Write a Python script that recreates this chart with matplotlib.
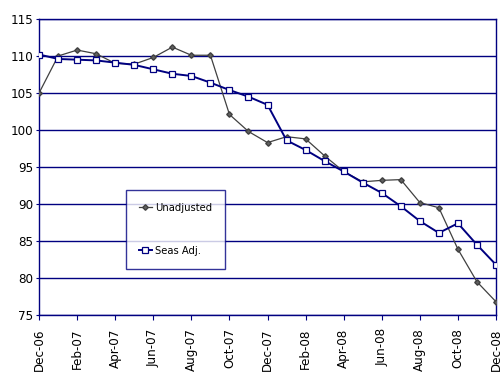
import matplotlib
matplotlib.use('Agg')
import matplotlib.pyplot as plt

# monthly index, Dec-06 .. Dec-08
months = ['Dec-06', 'Jan-07', 'Feb-07', 'Mar-07', 'Apr-07', 'May-07', 'Jun-07',
          'Jul-07', 'Aug-07', 'Sep-07', 'Oct-07', 'Nov-07', 'Dec-07', 'Jan-08',
          'Feb-08', 'Mar-08', 'Apr-08', 'May-08', 'Jun-08', 'Jul-08', 'Aug-08',
          'Sep-08', 'Oct-08', 'Nov-08', 'Dec-08']
unadjusted = [105.0, 110.0, 110.8, 110.3, 109.0, 108.9, 109.8, 111.2, 110.1, 110.1,
              102.1, 99.8, 98.3, 99.1, 98.8, 96.5, 94.4, 93.0, 93.2, 93.3,
              90.2, 89.5, 83.9, 79.5, 76.8]
seas_adj = [110.2, 109.6, 109.5, 109.4, 109.1, 108.8, 108.2, 107.6, 107.3, 106.4,
            105.4, 104.5, 103.4, 98.6, 97.3, 95.8, 94.4, 92.9, 91.5, 89.7,
            87.7, 86.1, 87.4, 84.5, 81.8]

plt.rcParams['font.family'] = ['DejaVu Sans']
plt.rcParams['font.stretch'] = 'condensed'

navy = '#000080'
x = list(range(len(months)))

fig = plt.figure(figsize=(5.01, 3.72), dpi=100)
ax = fig.add_axes([0.078, 0.153, 0.912, 0.796])

ax.plot(x, unadjusted, color='#404040', lw=0.9, marker='D', ms=2.8,
        mfc='#606060', mec='#404040', label='Unadjusted', zorder=3)
ax.plot(x, seas_adj, color=navy, lw=1.4, marker='s', ms=4.2,
        mfc='white', mec=navy, mew=0.9, label='Seas Adj.', zorder=4)

ax.set_xlim(0, len(months) - 1)
ax.set_ylim(75, 115)
ax.set_yticks(range(75, 116, 5))
ax.set_xticks(x[::2])
ax.set_xticklabels(months[::2], rotation=90, fontsize=9.5)
ax.tick_params(axis='y', labelsize=9.5, length=2, color=navy, pad=2)
ax.tick_params(axis='x', length=3.5, color=navy, pad=6)
ax.grid(axis='y', color=navy, lw=1.0)
ax.set_axisbelow(True)
for s in ax.spines.values():
    s.set_color(navy)
    s.set_linewidth(1.0)

leg = ax.legend(loc='center', bbox_to_anchor=(0.2987, 0.289), fontsize=8,
                frameon=True, fancybox=False, borderpad=1.15, labelspacing=3.0,
                handlelength=1.2, handletextpad=0.3, borderaxespad=0)
leg.get_frame().set_edgecolor(navy)
leg.get_frame().set_linewidth(1.0)

fig.savefig('out.png', dpi=100)
